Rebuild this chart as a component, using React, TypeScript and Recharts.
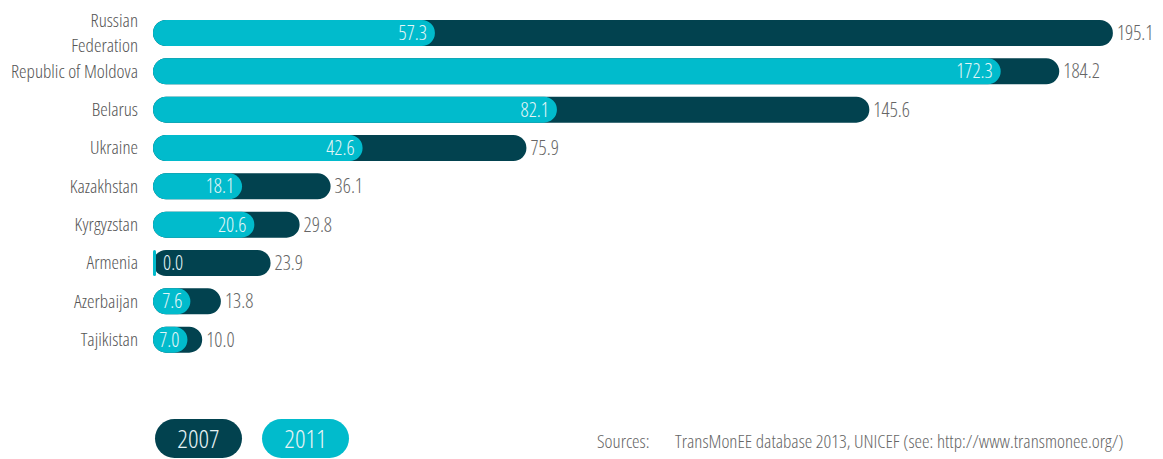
import React from "react";
import { BarChart, Bar, XAxis, YAxis, LabelList, Legend } from "recharts";

// rates per 100,000 children, 2007 vs 2011
const categories = [
    "Russian Federation",
    "Republic of Moldova",
    "Belarus",
    "Ukraine",
    "Kazakhstan",
    "Kyrgyzstan",
    "Armenia",
    "Azerbaijan",
    "Tajikistan",
];
const values2007 = [195.1, 184.2, 145.6, 75.9, 36.1, 29.8, 23.9, 13.8, 10.0];
const values2011 = [57.3, 172.3, 82.1, 42.6, 18.1, 20.6, 0.0, 7.6, 7.0];
const years = ["2007", "2011"];
const wrappedNames = ["Russian Federation"];
const sourceLabel = "Sources:";
const sourceText = "TransMonEE database 2013, UNICEF (see: http://www.transmonee.org/)";

const DARK = "#02424f";
const LIGHT = "#01bbcc";
const FONT = "'Open Sans', 'DejaVu Sans Condensed', sans-serif";

const data = categories.map((name, i) => ({
    name,
    y2007: values2007[i],
    y2011: values2011[i],
}));

const textStyle: React.CSSProperties = {
    fontFamily: FONT,
    fontStretch: "80%",
    fontWeight: 300,
};

const CategoryTick = (props: any) => {
    const { x, y, payload } = props;
    const name: string = payload.value;
    const lines = wrappedNames.includes(name) ? name.split(" ") : [name];
    const lineH = 25;
    const startY = y - ((lines.length - 1) * lineH) / 2;
    return (
        <g>
            {lines.map((l, i) => (
                <text
                    key={i}
                    x={x}
                    y={startY + i * lineH + 6}
                    textAnchor="end"
                    fill="#555"
                    fontSize={19}
                    style={textStyle}
                >
                    {l}
                </text>
            ))}
        </g>
    );
};

const DarkLabel = (props: any) => {
    const { x, y, width, height, value } = props;
    return (
        <text x={x + width + 4} y={y + height / 2 + 7} textAnchor="start" fill="#666" fontSize={20} style={textStyle}>
            {Number(value).toFixed(1)}
        </text>
    );
};

const LightLabel = (props: any) => {
    const { x, y, width, height, value } = props;
    const small = width < 22;
    return (
        <text
            x={small ? x + 10 : x + width - 8}
            y={y + height / 2 + 7}
            textAnchor={small ? "start" : "end"}
            fill="#e4f6f8"
            fontSize={20}
            style={textStyle}
        >
            {Number(value).toFixed(1)}
        </text>
    );
};

const LegendContent = () => (
    <div style={{ position: "relative", height: 0, ...textStyle }}>
        {years.map((yr, i) => (
            <div
                key={yr}
                style={{
                    position: "absolute",
                    left: 155 + i * 107,
                    top: 4,
                    width: 87,
                    height: 39,
                    borderRadius: 20,
                    background: i === 0 ? DARK : LIGHT,
                    color: "#e6f3f5",
                    fontSize: 26,
                    lineHeight: "39px",
                    textAlign: "center",
                }}
            >
                {yr}
            </div>
        ))}
        <div style={{ position: "absolute", left: 597, top: 13, color: "#666", fontSize: 19 }}>{sourceLabel}</div>
        <div style={{ position: "absolute", left: 675, top: 13, color: "#666", fontSize: 19, whiteSpace: "nowrap" }}>
            {sourceText}
        </div>
    </div>
);

const App = () => {
    return (
        <div style={{ position: "absolute", left: 0, top: 0, width: 1163, height: 459, background: "#fff" }}>
            <BarChart
                width={1163}
                height={459}
                data={data}
                layout="vertical"
                margin={{ top: 14, right: 26, bottom: 100, left: 0 }}
            >
                <XAxis type="number" domain={[0, 200]} hide />
                <YAxis
                    yAxisId="a"
                    type="category"
                    dataKey="name"
                    width={153}
                    axisLine={false}
                    tickLine={false}
                    tickSize={0}
                    tickMargin={15}
                    tick={<CategoryTick />}
                    interval={0}
                />
                <YAxis yAxisId="b" type="category" dataKey="name" hide />
                <Bar yAxisId="a" dataKey="y2007" fill={DARK} barSize={26} radius={13} isAnimationActive={false}>
                    <LabelList dataKey="y2007" content={<DarkLabel />} />
                </Bar>
                <Bar
                    yAxisId="b"
                    dataKey="y2011"
                    fill={LIGHT}
                    barSize={26}
                    radius={13}
                    minPointSize={3}
                    isAnimationActive={false}
                >
                    <LabelList dataKey="y2011" content={<LightLabel />} />
                </Bar>
                <Legend
                    content={<LegendContent />}
                    wrapperStyle={{ position: "absolute", left: 0, top: 415, width: 1163, height: 0, bottom: "auto" }}
                />
            </BarChart>
        </div>
    );
};

export default App;
